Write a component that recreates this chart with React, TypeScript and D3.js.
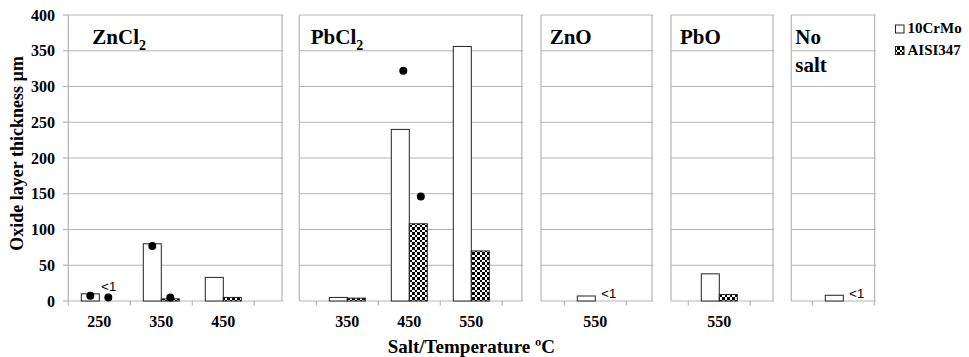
import { useEffect, useRef } from 'react';
import * as d3 from 'd3';

// category slots along the shared x axis ('' = empty slot hidden by panel gap)
const categories = ['250', '350', '450', '', '350', '450', '550', '', '550', '', '550', '', ''];
const crMo = [10, 80, 33, null, 5, 240, 356, null, 7, null, 38, null, 8];
const aisi = [null, 3, 5, null, 4, 108, 70, null, null, null, 9, null, null];
const dotsCrMo = [7.5, 77, null, null, null, 322, null, null, null, null, null, null, null];
const dotsAisi = [5, 5, null, null, null, 146, null, null, null, null, null, null, null];
const lessThanOne = [0, 8, 12];
const yTicks = [0, 50, 100, 150, 200, 250, 300, 350, 400];

const panelNames = [['ZnCl', '2'], ['PbCl', '2'], ['ZnO'], ['PbO'], ['No', 'salt']];

// panel extents in slot units, title offset in px
const panelLayout = [
  { from: 0, to: 3.447, dx: 24 },
  { from: 3.726, to: 7.316, dx: 11.5 },
  { from: 7.624, to: 9.415, dx: 8.7 },
  { from: 9.721, to: 11.366, dx: 9 },
  { from: 11.66, to: 13.005, dx: 4 },
];

const W = 969;
const H = 357;
const SERIF = "'Liberation Serif', 'DejaVu Serif', serif";
const SANS = "'Liberation Sans', Arial, sans-serif";
const GRID = '#b5b5b5';

export default function App() {
  const svgRef = useRef<SVGSVGElement>(null);

  useEffect(() => {
    if (!svgRef.current) return;
    const svg = d3.select(svgRef.current);
    svg.selectAll('*').remove();

    const x = d3.scaleLinear().domain([0, categories.length]).range([68.3, 874.3]);
    const y = d3.scaleLinear().domain([0, 400]).range([301, 15]);
    const barW = 18;
    const mid = (i: number) => x(i + 0.5);

    // checker pattern (uneven 2/3 px cells keep it crisp)
    const defs = svg.append('defs');
    const pat = defs.append('pattern').attr('id', 'checker')
      .attr('patternUnits', 'userSpaceOnUse').attr('width', 5).attr('height', 5);
    pat.append('rect').attr('width', 5).attr('height', 5).attr('fill', '#fff');
    pat.append('rect').attr('width', 2).attr('height', 2).attr('fill', '#000');
    pat.append('rect').attr('x', 2).attr('y', 2).attr('width', 3).attr('height', 3).attr('fill', '#000');

    // panels: gridlines, borders, axis line
    panelLayout.forEach((p, pi) => {
      const left = x(p.from);
      const right = x(p.to);
      yTicks.forEach(t => {
        svg.append('line')
          .attr('x1', left).attr('x2', right + 1.2).attr('y1', y(t)).attr('y2', y(t))
          .attr('stroke', GRID).attr('stroke-width', 1.2);
      });
      [left, right].forEach(xx => {
        svg.append('line')
          .attr('x1', xx).attr('x2', xx).attr('y1', y(400)).attr('y2', y(0))
          .attr('stroke', GRID).attr('stroke-width', 1.2);
      });
      d3.range(0, categories.length + 1).forEach(k => {
        const xx = x(k);
        if (xx < left - 0.5 || xx > right + 1.5) return;
        svg.append('line')
          .attr('x1', xx).attr('x2', xx).attr('y1', y(0)).attr('y2', y(0) + 4.5)
          .attr('stroke', GRID).attr('stroke-width', 1.2);
      });

      // title
      const name = panelNames[pi];
      const tx = left + p.dx;
      if (pi === 4) {
        name.forEach((line, li) => {
          svg.append('text')
            .attr('x', tx).attr('y', 44.3 + li * 27.4)
            .style('font-family', SERIF).attr('font-weight', 'bold').attr('font-size', 21)
            .attr('fill', '#000').text(line);
        });
      } else {
        const t = svg.append('text')
          .attr('x', tx).attr('y', 44.3)
          .style('font-family', SERIF).attr('font-weight', 'bold').attr('font-size', 21)
          .attr('fill', '#000');
        t.append('tspan').text(name[0]);
        if (name[1]) t.append('tspan').attr('dy', 6).attr('font-size', 14).text(name[1]);
      }
    });

    // y axis ticks + labels
    yTicks.forEach(t => {
      svg.append('line')
        .attr('x1', 63).attr('x2', 68.3).attr('y1', y(t)).attr('y2', y(t))
        .attr('stroke', GRID).attr('stroke-width', 1.2);
      svg.append('text')
        .attr('x', 55).attr('y', y(t) + 5.5)
        .attr('text-anchor', 'end')
        .style('font-family', SERIF).attr('font-weight', 'bold').attr('font-size', 16)
        .attr('fill', '#000').text(t);
    });

    // x tick labels
    categories.forEach((c, i) => {
      if (!c) return;
      svg.append('text')
        .attr('x', mid(i)).attr('y', 326.5)
        .attr('text-anchor', 'middle')
        .style('font-family', SERIF).attr('font-weight', 'bold').attr('font-size', 16)
        .attr('fill', '#000').text(c);
    });

    // bars
    crMo.forEach((v, i) => {
      if (v == null) return;
      svg.append('rect')
        .attr('x', mid(i) - barW).attr('y', y(v)).attr('width', barW).attr('height', y(0) - y(v))
        .attr('fill', '#fff').attr('stroke', '#222').attr('stroke-width', 1);
    });
    aisi.forEach((v, i) => {
      if (v == null) return;
      svg.append('rect')
        .attr('x', mid(i)).attr('y', y(v)).attr('width', barW).attr('height', y(0) - y(v))
        .attr('fill', 'url(#checker)').attr('stroke', '#222').attr('stroke-width', 1);
    });

    // dots
    dotsCrMo.forEach((v, i) => {
      if (v == null) return;
      svg.append('circle').attr('cx', mid(i) - barW / 2 + (i > 3 ? 3 : 0)).attr('cy', y(v)).attr('r', 4).attr('fill', '#000');
    });
    dotsAisi.forEach((v, i) => {
      if (v == null) return;
      svg.append('circle').attr('cx', mid(i) + barW / 2 + (i > 3 ? 2.5 : 0)).attr('cy', y(v)).attr('r', 4).attr('fill', '#000');
    });

    // "<1" labels
    lessThanOne.forEach(i => {
      const hasDot = dotsAisi[i] != null;
      svg.append('text')
        .attr('x', mid(i) + (hasDot ? 2 : 6)).attr('y', hasDot ? 290.8 : 297.8)
        .style('font-family', SANS).attr('font-size', 13)
        .attr('fill', '#000').text('<1');
    });

    // axis titles
    svg.append('text')
      .attr('x', mid(6)).attr('y', 352.7)
      .attr('text-anchor', 'middle')
      .style('font-family', SERIF).attr('font-weight', 'bold').attr('font-size', 19)
      .attr('fill', '#000').text('Salt/Temperature ºC');
    svg.append('text')
      .attr('transform', 'translate(22.5,153.4) rotate(-90)')
      .attr('text-anchor', 'middle')
      .style('font-family', SERIF).attr('font-weight', 'bold').attr('font-size', 18)
      .attr('fill', '#000').text('Oxide layer thickness µm');

    // legend
    const legend = [
      { label: '10CrMo', fill: '#fff' },
      { label: 'AISI347', fill: 'url(#checker)' },
    ];
    legend.forEach((l, li) => {
      const ly = 29 + li * 21.5;
      svg.append('rect')
        .attr('x', 895.5).attr('y', ly - 4).attr('width', 8.5).attr('height', 8)
        .attr('fill', l.fill).attr('stroke', '#222').attr('stroke-width', 1);
      svg.append('text')
        .attr('x', 907.5).attr('y', ly + 4)
        .style('font-family', SERIF).attr('font-weight', 'bold').attr('font-size', 15)
        .attr('fill', '#000').text(l.label);
    });
  }, []);

  return (
    <svg ref={svgRef} width={W} height={H}
      style={{ position: 'absolute', left: 0, top: 0, background: '#fff' }} />
  );
}
